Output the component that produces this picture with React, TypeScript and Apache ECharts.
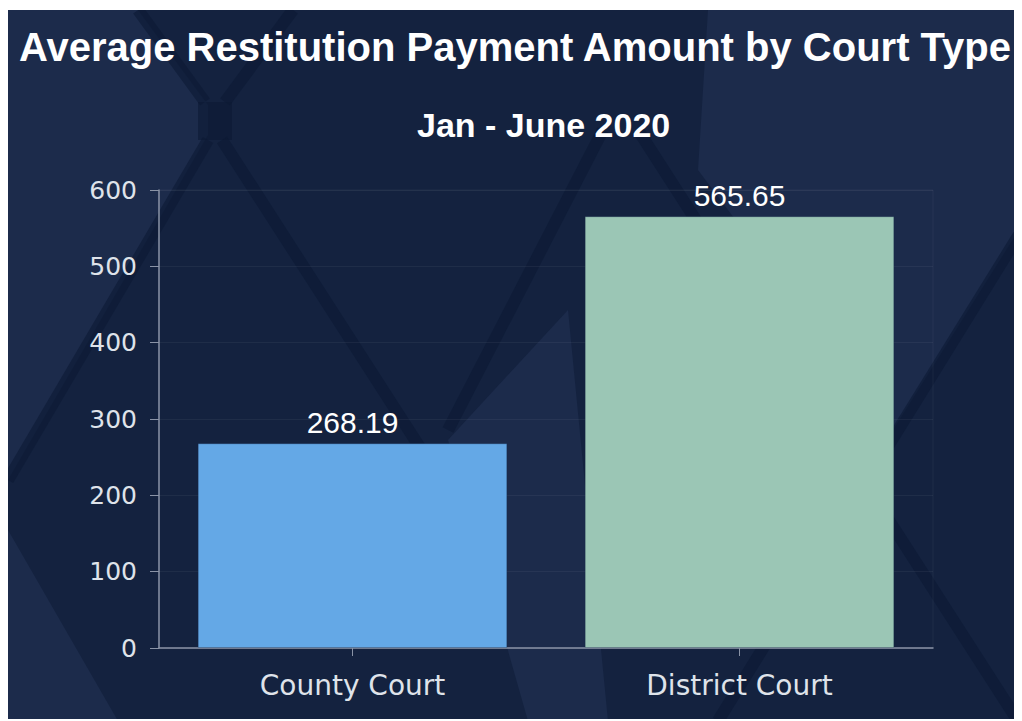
import React, { useEffect, useRef } from "react";
import * as echarts from "echarts";

const titleText = "Average Restitution Payment Amount by Court Type";
const subtitleText = "Jan - June 2020";
const categories = ["County Court", "District Court"];
const values = [268.19, 565.65];
const barColors = ["#64a8e6", "#9bc6b5"];
const yTicks = { min: 0, max: 600, interval: 100 };

const BG = "#14223f";
const LIGHT = "#1c2b4b";
const DARK = "#0c1933";

function background() {
  const polys: number[][][] = [
    [[0, 0], [130, 0], [200, 95], [200, 125], [0, 470]],
    [[700, 0], [1014, 0], [1014, 215], [885, 420], [690, 160]],
    [[0, 520], [110, 711], [0, 711]],
    [[440, 430], [560, 300], [600, 711], [520, 711]],
  ];
  const lines: number[][] = [
    [130, 0, 197, 92],
    [285, 0, 217, 92],
    [207, 92, 207, 130],
    [200, 130, 0, 470],
    [214, 130, 420, 450],
    [595, 120, 440, 420],
    [630, 120, 1010, 711],
    [1150, 0, 710, 711],
  ];
  const els: any[] = [];
  polys.forEach((p) =>
    els.push({ type: "polygon", silent: true, z: -10, shape: { points: p }, style: { fill: LIGHT } })
  );
  lines.forEach((l, i) =>
    els.push({
      type: "line",
      silent: true,
      z: -9,
      shape: { x1: l[0], y1: l[1], x2: l[2], y2: l[3] },
      style: { stroke: DARK, lineWidth: i === 2 ? 34 : 12, opacity: 0.6 },
    })
  );
  return els;
}

export default function App() {
  const ref = useRef<HTMLDivElement>(null);
  useEffect(() => {
    if (!ref.current) return;
    const chart = echarts.init(ref.current, undefined, { renderer: "svg" });
    chart.setOption({
      animation: false,
      backgroundColor: BG,
      graphic: background(),
      title: [
        {
          text: titleText,
          left: "center",
          top: 17,
          padding: 0,
          textStyle: { color: "#ffffff", fontSize: 40, fontWeight: "bold", fontFamily: "Liberation Sans, Arial, sans-serif" },
        },
        {
          text: subtitleText,
          left: 409,
          top: 98,
          padding: 0,
          textStyle: { color: "#ffffff", fontSize: 34, fontWeight: "bold", fontFamily: "Liberation Sans, Arial, sans-serif" },
        },
      ],
      grid: {
        left: 151,
        right: 89,
        top: 180,
        bottom: 73,
        show: true,
        borderColor: "rgba(255,255,255,0.05)",
        borderWidth: 1,
        backgroundColor: "transparent",
      },
      xAxis: {
        type: "category",
        data: categories,
        axisLine: { show: true, lineStyle: { color: "#8a93a6", width: 1.5 } },
        axisTick: { show: true, alignWithLabel: true, length: 8, lineStyle: { color: "#8a93a6" } },
        axisLabel: { color: "#dfe3ea", fontSize: 28, margin: 23, fontFamily: "DejaVu Sans, sans-serif" },
        splitLine: { show: false },
      },
      yAxis: {
        type: "value",
        min: yTicks.min,
        max: yTicks.max,
        interval: yTicks.interval,
        axisLine: { show: true, lineStyle: { color: "#8a93a6", width: 1.5 } },
        axisTick: { show: true, length: 9, lineStyle: { color: "#8a93a6" } },
        axisLabel: { color: "#dfe3ea", fontSize: 25, margin: 22, fontFamily: "DejaVu Sans, sans-serif" },
        splitLine: { show: true, lineStyle: { color: "rgba(255,255,255,0.05)" } },
      },
      series: [
        {
          type: "bar",
          barWidth: "80%",
          data: values.map((v, i) => ({
            value: v,
            itemStyle: { color: barColors[i], borderColor: "rgba(20,40,70,0.25)", borderWidth: 1 },
          })),
          label: {
            show: true,
            position: "top",
            distance: 6,
            color: "#ffffff",
            fontSize: 30,
            fontFamily: "Liberation Sans, Arial, sans-serif",
            formatter: (p: any) => p.value.toFixed(2),
          },
        },
      ],
    });
    return () => chart.dispose();
  }, []);
  return <div ref={ref} style={{ width: 1014, height: 711, position: "relative", top: 2 }} />;
}
